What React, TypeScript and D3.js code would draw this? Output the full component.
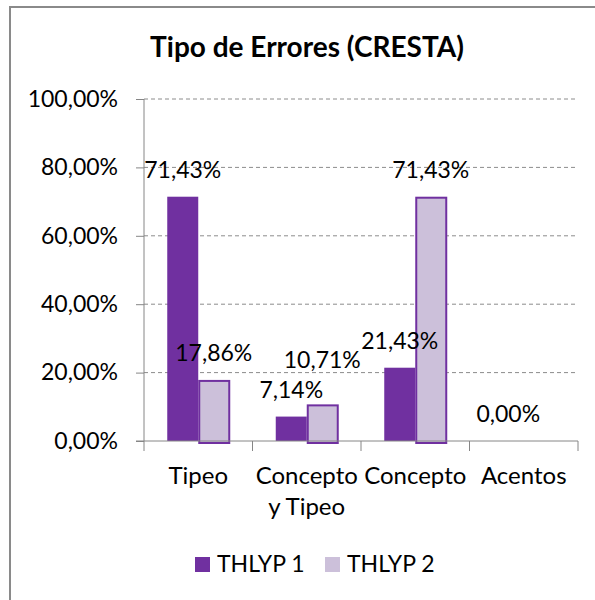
// App.tsx
import React, { useRef, useEffect } from "react";
import * as d3 from "d3";

const WIDTH = 595;
const HEIGHT = 600;
const MARGIN = { top: 99, right: 17, bottom: 159, left: 144 };
const FONT = "Lato, 'Open Sans', sans-serif";

const title = "Tipo de Errores (CRESTA)";
const categories = ["Tipeo", "Concepto\ny Tipeo", "Concepto", "Acentos"];
const seriesNames = ["THLYP 1", "THLYP 2"];
const thlyp1 = [0.7143, 0.0714, 0.2143, 0.0];
const thlyp2: (number | null)[] = [0.1786, 0.1071, 0.7143, null];
const yTicks = [0, 0.2, 0.4, 0.6, 0.8, 1.0];

const DARK = "#7030a0";
const LIGHT = "#ccc0da";

// Excel moved this one label up so it would not overlap its neighbour
const LABEL_NUDGE: Record<string, number> = { "1-1": 17 };

const locale = d3.formatLocale({
  decimal: ",",
  thousands: ".",
  grouping: [3],
  currency: ["", "€"],
});
const pct = locale.format(".2%");

export default function App() {
  const svgRef = useRef<SVGSVGElement>(null);

  useEffect(() => {
    const svg = d3.select(svgRef.current);
    svg.selectAll("*").remove();

    const innerW = WIDTH - MARGIN.left - MARGIN.right;
    const innerH = HEIGHT - MARGIN.top - MARGIN.bottom;

    // border of the chart object
    svg
      .append("path")
      .attr("d", `M10,${HEIGHT} L10,7 L${WIDTH},7`)
      .attr("fill", "none")
      .attr("stroke", "#8a8a8a")
      .attr("stroke-width", 2);

    svg
      .append("text")
      .attr("x", 307)
      .attr("y", 57)
      .attr("text-anchor", "middle")
      .attr("font-family", FONT)
      .attr("font-size", 28)
      .attr("font-weight", 700)
      .attr("fill", "#000")
      .text(title);

    const g = svg
      .append("g")
      .attr("transform", `translate(${MARGIN.left},${MARGIN.top})`);

    const y = d3.scaleLinear().domain([0, 1]).range([innerH, 0]);
    const x0 = d3
      .scaleBand()
      .domain(categories)
      .range([0, innerW])
      .paddingInner(0)
      .paddingOuter(0);
    const x1 = d3
      .scaleBand()
      .domain(seriesNames)
      .range([0, x0.bandwidth()])
      .paddingOuter(0.75)
      .paddingInner(0);

    // dashed gridlines
    g.selectAll("line.grid")
      .data(yTicks.filter((t) => t > 0))
      .join("line")
      .attr("class", "grid")
      .attr("x1", 0)
      .attr("x2", innerW)
      .attr("y1", (d) => y(d))
      .attr("y2", (d) => y(d))
      .attr("stroke", "#8c8c8c")
      .attr("stroke-width", 1)
      .attr("stroke-dasharray", "4,3");

    // y axis
    const yAxis = d3
      .axisLeft(y)
      .tickValues(yTicks)
      .tickSize(8)
      .tickPadding(18)
      .tickFormat((d) => pct(d as number));
    const yg = g.append("g").call(yAxis);
    yg.select(".domain").attr("stroke", "#868686").attr("d", `M0,${innerH}V0`);
    yg.selectAll(".tick line").attr("stroke", "#868686");
    yg.selectAll("text")
      .attr("font-family", FONT)
      .attr("font-size", 23)
      .attr("fill", "#000");

    // bars
    const rows = categories.flatMap((c, ci) =>
      seriesNames.map((s, si) => ({
        c,
        ci,
        s,
        si,
        v: si === 0 ? thlyp1[ci] : thlyp2[ci],
      })),
    );

    g.selectAll("rect.bar")
      .data(rows.filter((d) => d.v !== null && d.v > 0))
      .join("rect")
      .attr("class", "bar")
      .attr("x", (d) => (x0(d.c) ?? 0) + (x1(d.s) ?? 0) + (d.si === 1 ? 1 : 0))
      .attr("y", (d) => y(d.v as number) + (d.si === 1 ? 1 : 0))
      .attr("width", (d) => x1.bandwidth() - (d.si === 1 ? 1 : 0))
      .attr("height", (d) => innerH - y(d.v as number) + (d.si === 1 ? 1 : 0))
      .attr("fill", (d) => (d.si === 0 ? DARK : LIGHT))
      .attr("stroke", (d) => (d.si === 0 ? "none" : DARK))
      .attr("stroke-width", 2);

    // x axis
    const xg = g.append("g").attr("transform", `translate(0,${innerH})`);
    xg.append("line")
      .attr("x1", -8)
      .attr("x2", innerW)
      .attr("stroke", "#868686");
    xg.selectAll("line.tick")
      .data([...categories.map((c) => x0(c) ?? 0), innerW])
      .join("line")
      .attr("class", "tick")
      .attr("x1", (d) => d)
      .attr("x2", (d) => d)
      .attr("y1", 0)
      .attr("y2", 10)
      .attr("stroke", "#868686");

    const catText = xg
      .selectAll("text.cat")
      .data(categories)
      .join("text")
      .attr("class", "cat")
      .attr("text-anchor", "middle")
      .attr("font-family", FONT)
      .attr("font-size", 24)
      .attr("fill", "#000");
    catText
      .selectAll("tspan")
      .data((d) => d.split("\n").map((line) => ({ line, c: d })))
      .join("tspan")
      .attr("x", (d) => (x0(d.c) ?? 0) + x0.bandwidth() / 2)
      .attr("y", (_, i) => 43 + i * 31)
      .text((d) => d.line);

    // value labels
    g.selectAll("text.val")
      .data(rows.filter((d) => d.v !== null))
      .join("text")
      .attr("class", "val")
      .attr("x", (d) => (x0(d.c) ?? 0) + (x1(d.s) ?? 0) + x1.bandwidth() / 2)
      .attr(
        "y",
        (d) => y(d.v as number) - 19 - (LABEL_NUDGE[`${d.ci}-${d.si}`] ?? 0),
      )
      .attr("text-anchor", "middle")
      .attr("font-family", FONT)
      .attr("font-size", 23)
      .attr("fill", "#000")
      .text((d) => pct(d.v as number));

    // legend
    const legend = svg
      .append("g")
      .selectAll("g.legend")
      .data(seriesNames)
      .join("g")
      .attr("class", "legend")
      .attr("transform", (_, i) => `translate(${195 + i * 130},557)`);
    legend
      .append("rect")
      .attr("width", 15)
      .attr("height", 15)
      .attr("fill", (_, i) => (i === 0 ? DARK : LIGHT));
    legend
      .append("text")
      .attr("x", 22)
      .attr("y", 15)
      .attr("font-family", FONT)
      .attr("font-size", 23)
      .attr("fill", "#000")
      .text((d) => d);
  }, []);

  return (
    <svg
      ref={svgRef}
      width={WIDTH}
      height={HEIGHT}
      style={{ position: "absolute", left: 0, top: 0, background: "#fff" }}
    />
  );
}
